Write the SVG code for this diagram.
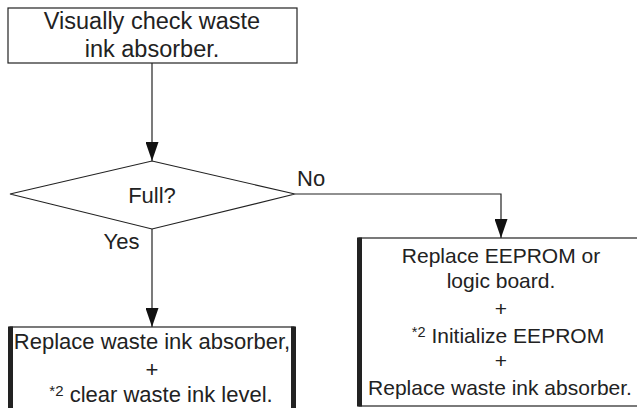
<svg xmlns="http://www.w3.org/2000/svg" width="637" height="408" viewBox="0 0 637 408">
<defs>
<style>
.t{font-family:"Liberation Sans",Arial,sans-serif;fill:#222;text-anchor:middle}
.box{fill:#fff;stroke:#222;stroke-width:1.2}
.thick{stroke:#222;stroke-width:5}
.line{fill:none;stroke:#222;stroke-width:1.2}
</style>
<marker id="arr" markerWidth="19" markerHeight="13" refX="19" refY="6.5" orient="auto" markerUnits="userSpaceOnUse" viewBox="0 0 19 13">
<path d="M0,0 L19,6.5 L0,13 Z" fill="#111"/>
</marker>
</defs>
<rect width="637" height="408" fill="#fff"/>
<g id="connectors">
<path class="line" d="M152,63 V161" marker-end="url(#arr)"/>
<path class="line" d="M152,229 V327" marker-end="url(#arr)"/>
<path class="line" d="M295,194 H501 V238" marker-end="url(#arr)"/>
<text class="t" x="297" y="186" font-size="22" style="text-anchor:start">No</text>
<text class="t" x="121.5" y="249" font-size="22">Yes</text>
</g>
<g id="check">
<rect class="box" x="8" y="8" width="289" height="55"/>
<text class="t" x="152" y="29" font-size="23.5">Visually check waste</text>
<text class="t" x="152" y="57" font-size="23.5">ink absorber.</text>
</g>
<g id="full">
<polygon class="box" points="152,161 295,194 152,229 10,194"/>
<text class="t" x="152" y="203" font-size="22">Full?</text>
</g>
<g id="replaceAbsorber">
<rect class="box" x="10" y="327" width="284" height="90"/>
<line class="thick" x1="10.5" y1="326.5" x2="10.5" y2="408"/>
<line class="thick" x1="293.5" y1="326.5" x2="293.5" y2="408"/>
<text class="t" x="152" y="349" font-size="22">Replace waste ink absorber,</text>
<text class="t" x="152" y="377" font-size="22">+</text>
<text class="t" x="161" y="402" font-size="22"><tspan font-size="15" dy="-6">*2</tspan><tspan dy="6"> clear waste ink level.</tspan></text>
</g>
<g id="replaceEeprom">
<rect class="box" x="359" y="238" width="290" height="168"/>
<line class="thick" x1="359.5" y1="237.5" x2="359.5" y2="406.5"/>
<text class="t" x="501" y="263" font-size="21">Replace EEPROM or</text>
<text class="t" x="501" y="288" font-size="21">logic board.</text>
<text class="t" x="501" y="316" font-size="21">+</text>
<text class="t" x="508" y="343" font-size="21"><tspan font-size="14.5" dy="-6">*2</tspan><tspan dy="6"> Initialize EEPROM</tspan></text>
<text class="t" x="501" y="368" font-size="21">+</text>
<text class="t" x="500" y="395" font-size="21">Replace waste ink absorber.</text>
</g>
</svg>
